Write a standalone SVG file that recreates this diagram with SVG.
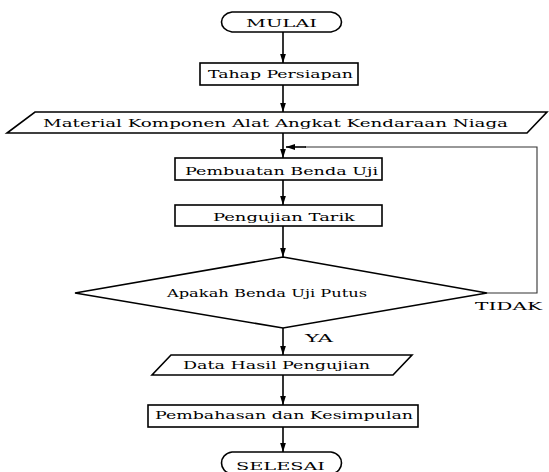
<svg xmlns="http://www.w3.org/2000/svg" width="549" height="472" viewBox="0 0 549 472">
<style>
.s{fill:#fff;stroke:#000;stroke-width:1.6}
.t{font-family:'DejaVu Serif','Liberation Serif',serif;font-size:11.5px;fill:#000}
.c{fill:none;stroke:#000;stroke-width:1.6}
.l{fill:none;stroke:#333;stroke-width:1.1}
</style>
<defs>
<marker id="ah" markerUnits="userSpaceOnUse" markerWidth="9" markerHeight="14" refX="14" refY="4.5" orient="auto" viewBox="0 0 14 9">
<path d="M0,0 L14,4.5 L0,9 Z" fill="#000"/>
</marker>
</defs>
<rect width="549" height="472" fill="#fff"/>
<g id="connectors">
<line class="c" x1="283" y1="32" x2="283" y2="63" marker-end="url(#ah)"/>
<line class="c" x1="283" y1="85" x2="283" y2="112" marker-end="url(#ah)"/>
<line class="c" x1="283" y1="133" x2="283" y2="158" marker-end="url(#ah)"/>
<line class="c" x1="283" y1="180" x2="283" y2="205" marker-end="url(#ah)"/>
<line class="c" x1="283" y1="226" x2="283" y2="257" marker-end="url(#ah)"/>
<line class="c" x1="283" y1="328" x2="283" y2="355" marker-end="url(#ah)"/>
<line class="c" x1="283" y1="375" x2="283" y2="405" marker-end="url(#ah)"/>
<line class="c" x1="283" y1="427" x2="283" y2="452" marker-end="url(#ah)"/>
<polyline class="l" points="487,293 537,293 537,147 305,147"/>
<line class="c" x1="306" y1="147" x2="286" y2="147" marker-end="url(#ah)"/>
<text class="t" x="475" y="310" textLength="67" lengthAdjust="spacingAndGlyphs">TIDAK</text>
<text class="t" x="305" y="342" textLength="28" lengthAdjust="spacingAndGlyphs">YA</text>
</g>
<g id="mulai">
<path class="s" d="M232,12 H331 C345,14 345,30 331,32 H232 C218,30 218,14 232,12 Z"/>
<text class="t" x="246" y="27" textLength="71" lengthAdjust="spacingAndGlyphs">MULAI</text>
</g>
<g id="tahap">
<rect class="s" x="200" y="63" width="158" height="22"/>
<text class="t" x="208" y="78" textLength="145" lengthAdjust="spacingAndGlyphs">Tahap Persiapan</text>
</g>
<g id="material">
<polygon class="s" points="35,112 547,112 527,133 7,133"/>
<text class="t" x="43" y="127" textLength="465" lengthAdjust="spacingAndGlyphs">Material Komponen Alat Angkat Kendaraan Niaga</text>
</g>
<g id="pembuatan">
<rect class="s" x="175" y="158" width="207" height="22"/>
<text class="t" x="185" y="175" textLength="193" lengthAdjust="spacingAndGlyphs">Pembuatan Benda Uji</text>
</g>
<g id="pengujian">
<rect class="s" x="175" y="205" width="207" height="21"/>
<text class="t" x="213" y="221" textLength="142" lengthAdjust="spacingAndGlyphs">Pengujian Tarik</text>
</g>
<g id="keputusan">
<polygon class="s" points="283,257 487,293 283,328 75,293"/>
<text class="t" x="167" y="297" textLength="200" lengthAdjust="spacingAndGlyphs">Apakah Benda Uji Putus</text>
</g>
<g id="data">
<polygon class="s" points="171,355 412,355 393,375 152,375"/>
<text class="t" x="183" y="369" textLength="187" lengthAdjust="spacingAndGlyphs">Data Hasil Pengujian</text>
</g>
<g id="pembahasan">
<rect class="s" x="148" y="405" width="270" height="22"/>
<text class="t" x="155" y="419" textLength="258" lengthAdjust="spacingAndGlyphs">Pembahasan dan Kesimpulan</text>
</g>
<g id="selesai">
<path class="s" d="M232,452 H331 C345,454 345,472 331,474 H232 C218,472 218,454 232,452 Z"/>
<text class="t" x="236" y="470" textLength="89" lengthAdjust="spacingAndGlyphs">SELESAI</text>
</g>
</svg>
